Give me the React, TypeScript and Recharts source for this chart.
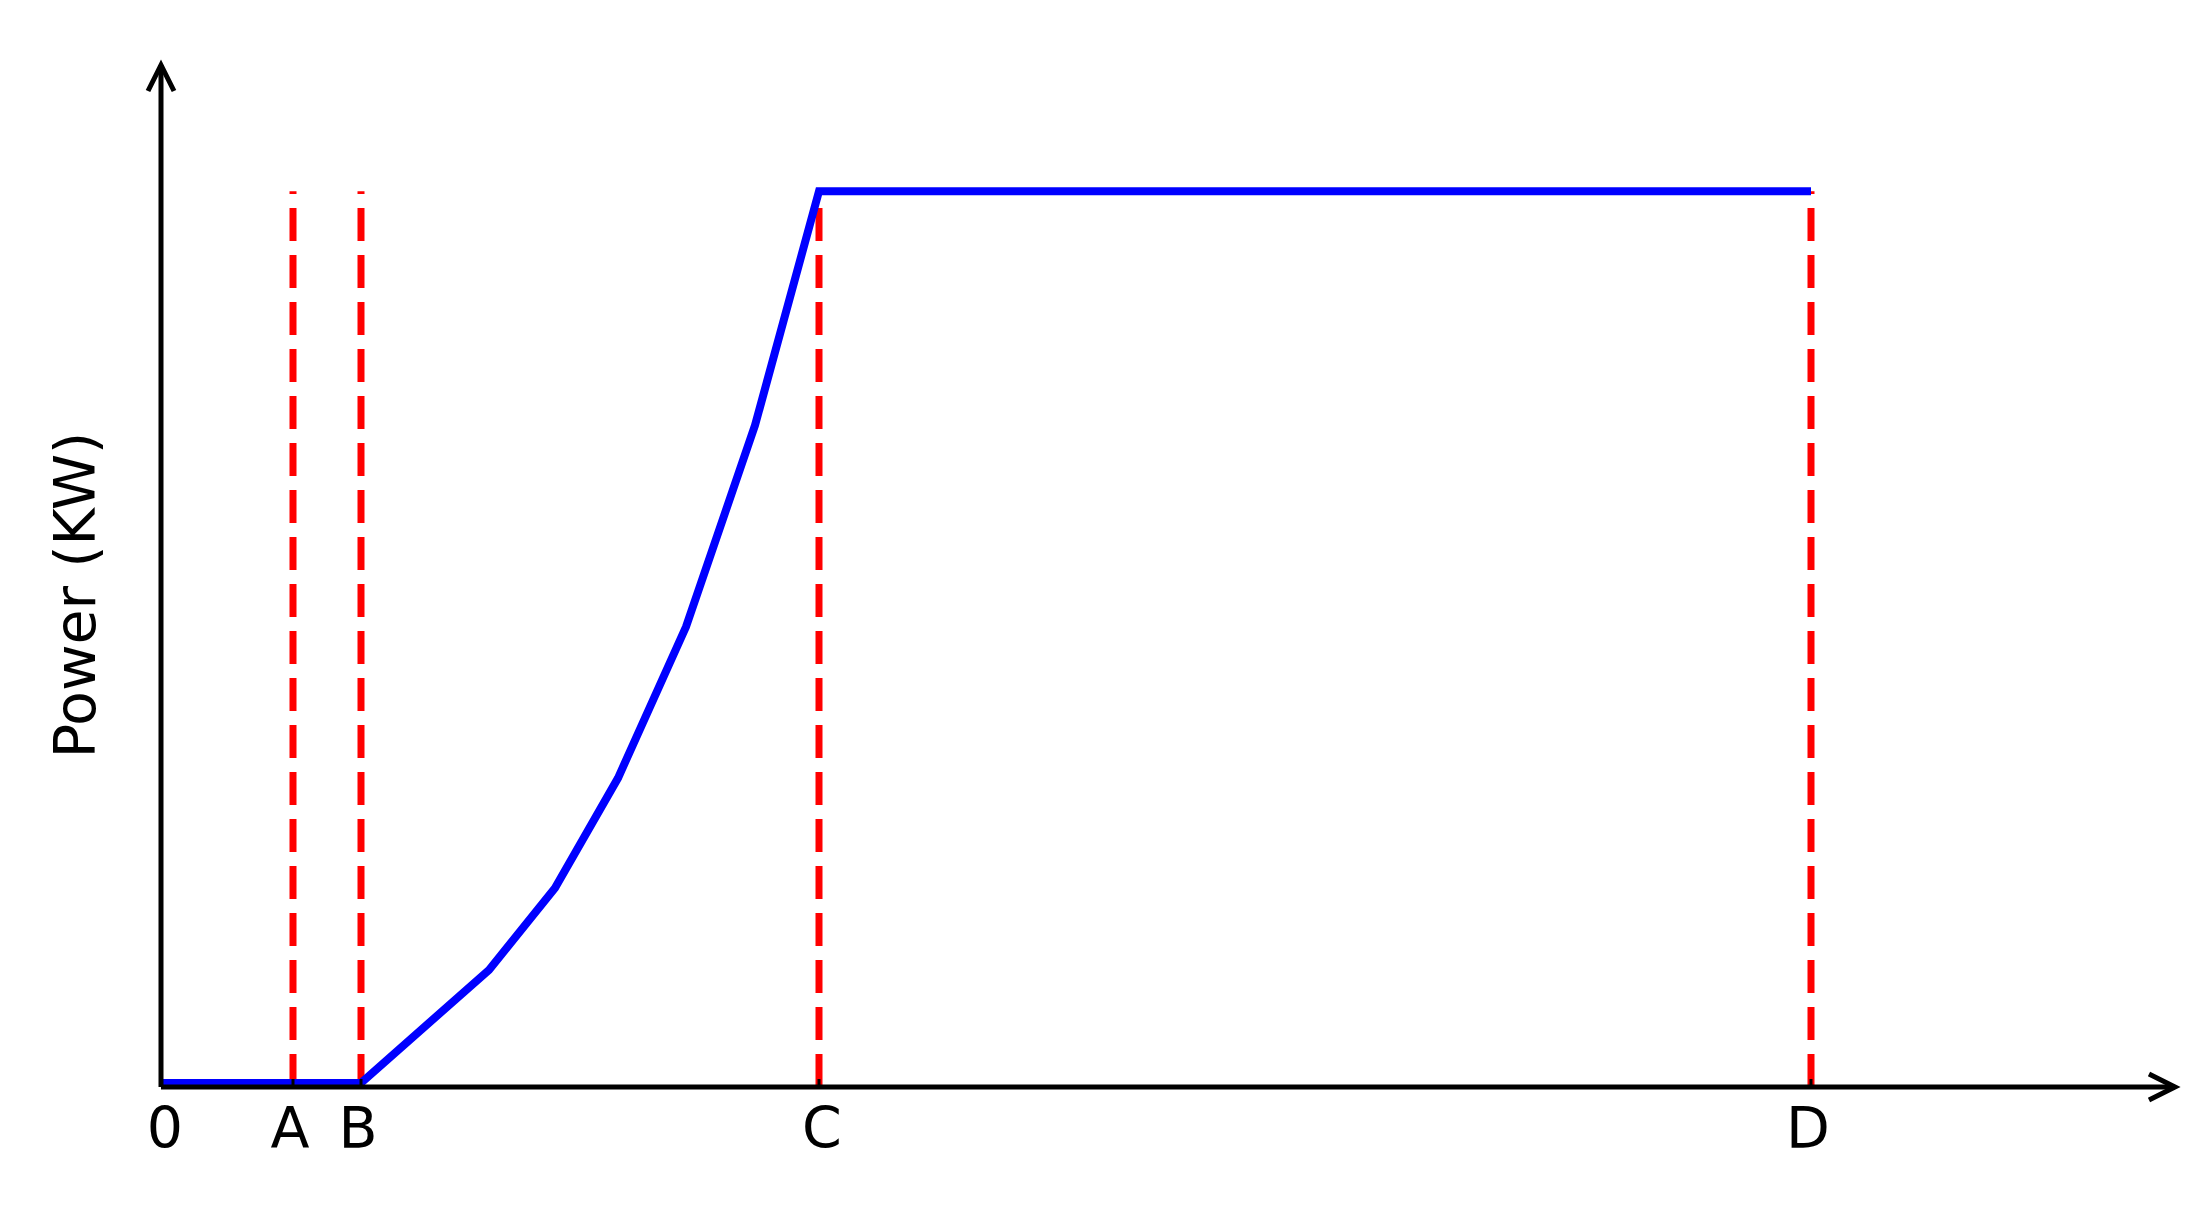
import React from 'react';
import { LineChart, Line, XAxis, YAxis, ReferenceLine } from 'recharts';

// x positions of the marked points (arbitrary units)
const tickValues = [0, 6.6, 10, 32.9, 82.5];
const tickLabels = ['0', 'A', 'B', 'C', 'D'];

// power curve: x and power values
const curveX = [0, 10, 16.4, 19.7, 22.85, 26.25, 29.7, 32.9, 82.5];
const curveY = [0, 0, 11.1, 19.15, 29.95, 44.8, 64.6, 87.6, 87.6];

// dashed red marker lines at A, B, C, D
const markerX = [6.6, 10, 32.9, 82.5];
const markerTop = 87.6;

const X_DOMAIN: [number, number] = [0, 100.7];
const Y_DOMAIN: [number, number] = [-0.4, 100];

const data = curveX.map((x, i) => ({ x, y: curveY[i] }));
const labelMap: Record<number, string> = {};
tickValues.forEach((v, i) => { labelMap[v] = tickLabels[i]; });

const FONT = "'DejaVu Sans', sans-serif";

const YLabel = (props: any) => {
  const vb = props.viewBox || { x: 0, y: 0, width: 153, height: 1022 };
  const cx = vb.x + 87;
  const cy = vb.y + vb.height / 2 + 19;
  return (
    <g>
      <defs>
        <marker id="arrowHead" markerUnits="userSpaceOnUse" markerWidth="40" markerHeight="40"
          viewBox="-32 -20 40 40" refX="0" refY="0" orient="auto-start-reverse" overflow="visible">
          <path d="M -26 -13 L 0 0 L -26 13" fill="none" stroke="#000" strokeWidth="5" />
        </marker>
      </defs>
      <text x={cx} y={cy} transform={`rotate(-90 ${cx} ${cy})`} textAnchor="middle"
        fontFamily={FONT} fontSize={57} fill="#000">Power (KW)</text>
    </g>
  );
};

const XTick = (props: any) => {
  const { x, y, payload } = props;
  const v = payload?.value;
  const label = labelMap[v] ?? '';
  const dx = label === '0' ? 4 : label === 'C' ? 3 : -3;
  return (
    <text x={x + dx} y={y} dy="0.71em" textAnchor="middle" fontFamily={FONT}
      fontSize={57} fill="#000">{label}</text>
  );
};

export default function App() {
  return (
    <div style={{ width: 2188, height: 1189 }}>
      <LineChart width={2188} height={1189} data={data}
        margin={{ top: 57, right: 21, left: 0, bottom: 0 }}>
        <XAxis dataKey="x" type="number" domain={X_DOMAIN} allowDataOverflow
          ticks={tickValues} interval={0}
          height={110}
          axisLine={{ stroke: '#000', strokeWidth: 5, markerEnd: 'url(#arrowHead)' }}
          tickLine={{ stroke: '#000', strokeWidth: 3 }}
          tickSize={-8} tickMargin={29}
          tick={<XTick />} />
        <YAxis type="number" domain={Y_DOMAIN} allowDataOverflow width={153}
          tick={false} tickLine={false}
          axisLine={{ stroke: '#000', strokeWidth: 5, markerStart: 'url(#arrowHead)' }}
          label={{ content: YLabel }} />
        {markerX.map((mx) => (
          <ReferenceLine key={mx}
            segment={[{ x: mx, y: Y_DOMAIN[0] }, { x: mx, y: markerTop }]}
            stroke="#ff0000" strokeWidth={7} strokeDasharray="33 14" ifOverflow="visible" />
        ))}
        <Line dataKey="y" type="linear" stroke="#0000ff" strokeWidth={8} dot={false}
          activeDot={false} isAnimationActive={false} />
      </LineChart>
    </div>
  );
}
